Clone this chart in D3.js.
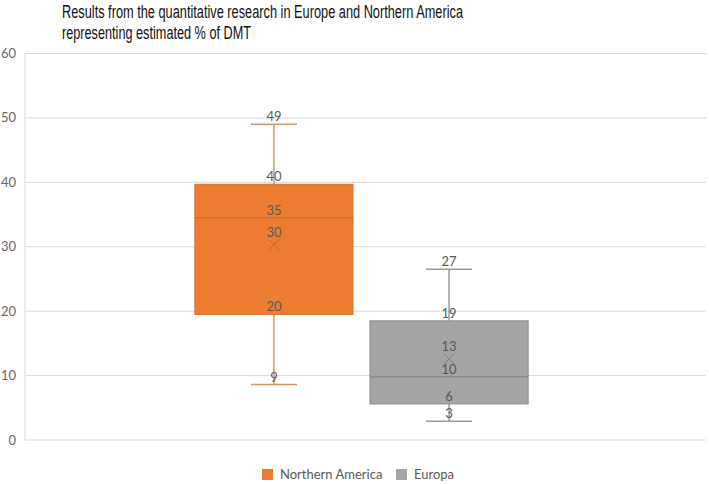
<!DOCTYPE html>
<html>
<head>
<meta charset="utf-8">
<script src="https://cdn.jsdelivr.net/npm/d3@7"></script>
<style>
  body { margin: 0; background: #fff; }
  svg { display: block; }
</style>
</head>
<body>
<svg id="chart"></svg>
<script>
// box plot stats
const series = ["Northern America", "Europa"];
const minVals = [8.6, 2.9];
const q1Vals = [19.5, 5.6];
const medianVals = [34.5, 9.8];
const meanVals = [30.3, 12.6];
const q3Vals = [39.7, 18.5];
const maxVals = [49, 26.5];
const yTicks = [0, 10, 20, 30, 40, 50, 60];
const colors = ["#ED7D31", "#A5A5A5"];
const strokeColors = ["#D5702C", "#8C8C8C"];
const whiskerColors = ["#DC9367", "#9A9A9A"];
const markColors = ["#C4662A", "#7F7F7F"];

const width = 709, height = 484;
const svg = d3.select("#chart").attr("width", width).attr("height", height);

const rows = series.map((s, i) => ({
  name: s, min: minVals[i], q1: q1Vals[i], median: medianVals[i],
  mean: meanVals[i], q3: q3Vals[i], max: maxVals[i], i: i
}));

const y = d3.scaleLinear().domain([0, 60]).range([440, 53.5]);
const x = d3.scaleBand().domain(series).range([25, 698])
  .paddingInner(0.097).paddingOuter(0.97);

// title
const title = svg.append("g")
  .style("font-family", "'Liberation Sans', Arial, sans-serif")
  .style("font-size", "17.5px")
  .style("fill", "#111");
title.append("text").attr("x", 62).attr("y", 18)
  .attr("textLength", 401).attr("lengthAdjust", "spacingAndGlyphs")
  .text("Results from the quantitative  research in Europe and Northern America");
title.append("text").attr("x", 62).attr("y", 39)
  .attr("textLength", 189).attr("lengthAdjust", "spacingAndGlyphs")
  .text("representing estimated % of DMT");

// gridlines
svg.append("g").selectAll("line")
  .data(yTicks)
  .join("line")
  .attr("x1", 25).attr("x2", 706)
  .attr("y1", d => y(d)).attr("y2", d => y(d))
  .attr("stroke", "#D9D9D9").attr("stroke-width", 1);

svg.append("line")
  .attr("x1", 25).attr("x2", 25)
  .attr("y1", y(60)).attr("y2", y(0))
  .attr("stroke", "#D9D9D9");

// y axis labels
svg.append("g").selectAll("text")
  .data(yTicks)
  .join("text")
  .attr("x", 16).attr("y", d => y(d) + 4.5)
  .attr("text-anchor", "end")
  .style("font-family", "Lato, 'Open Sans', sans-serif")
  .style("font-size", "13px")
  .style("fill", "#666")
  .text(d => d);

const boxes = svg.append("g").selectAll("g")
  .data(rows)
  .join("g");

const cx = d => x(d.name) + x.bandwidth() / 2;
const capW = 23;

// whiskers
boxes.append("line")
  .attr("x1", cx).attr("x2", cx)
  .attr("y1", d => y(d.q3)).attr("y2", d => y(d.max))
  .attr("stroke", d => whiskerColors[d.i]).attr("stroke-width", 1.5);
boxes.append("line")
  .attr("x1", cx).attr("x2", cx)
  .attr("y1", d => y(d.q1)).attr("y2", d => y(d.min))
  .attr("stroke", d => whiskerColors[d.i]).attr("stroke-width", 1.5);
boxes.append("line")
  .attr("x1", d => cx(d) - capW).attr("x2", d => cx(d) + capW)
  .attr("y1", d => y(d.max)).attr("y2", d => y(d.max))
  .attr("stroke", d => whiskerColors[d.i]).attr("stroke-width", 1.5);
boxes.append("line")
  .attr("x1", d => cx(d) - capW).attr("x2", d => cx(d) + capW)
  .attr("y1", d => y(d.min)).attr("y2", d => y(d.min))
  .attr("stroke", d => whiskerColors[d.i]).attr("stroke-width", 1.5);

// box
boxes.append("rect")
  .attr("x", d => x(d.name))
  .attr("width", x.bandwidth())
  .attr("y", d => y(d.q3))
  .attr("height", d => y(d.q1) - y(d.q3))
  .attr("fill", d => colors[d.i])
  .attr("stroke", d => strokeColors[d.i]).attr("stroke-width", 1);

// median
boxes.append("line")
  .attr("x1", d => x(d.name)).attr("x2", d => x(d.name) + x.bandwidth())
  .attr("y1", d => y(d.median)).attr("y2", d => y(d.median))
  .attr("stroke", d => markColors[d.i]).attr("stroke-width", 1);

// mean marker
const mk = 5.5;
boxes.append("path")
  .attr("d", d => {
    const px = cx(d), py = y(d.mean);
    return `M${px - mk},${py - mk}L${px + mk},${py + mk}M${px - mk},${py + mk}L${px + mk},${py - mk}`;
  })
  .attr("stroke", d => markColors[d.i]).attr("stroke-width", 1).attr("fill", "none");

// data labels
const labelData = rows.flatMap(d => [
  { v: d.max, off: 3, r: d }, { v: d.q3, off: 3, r: d }, { v: d.median, off: 3, r: d },
  { v: d.mean, off: 8, r: d }, { v: d.q1, off: 3, r: d }, { v: d.min, off: 3, r: d }
]);
svg.append("g").selectAll("text")
  .data(labelData)
  .join("text")
  .attr("x", d => cx(d.r))
  .attr("y", d => y(d.v) - d.off)
  .attr("text-anchor", "middle")
  .style("font-family", "Lato, 'Open Sans', sans-serif")
  .style("font-size", "13px")
  .style("fill", "#595959")
  .text(d => Math.round(d.v));

// legend
const legend = svg.append("g").selectAll("g")
  .data(series)
  .join("g")
  .attr("transform", (d, i) => `translate(${[262, 396][i]},469)`);
legend.append("rect")
  .attr("width", 11).attr("height", 11)
  .attr("fill", (d, i) => colors[i]);
legend.append("text")
  .attr("x", 18).attr("y", 10)
  .style("font-family", "Lato, 'Open Sans', sans-serif")
  .style("font-size", "13px")
  .style("fill", "#595959")
  .text(d => d);
</script>
</body>
</html>
